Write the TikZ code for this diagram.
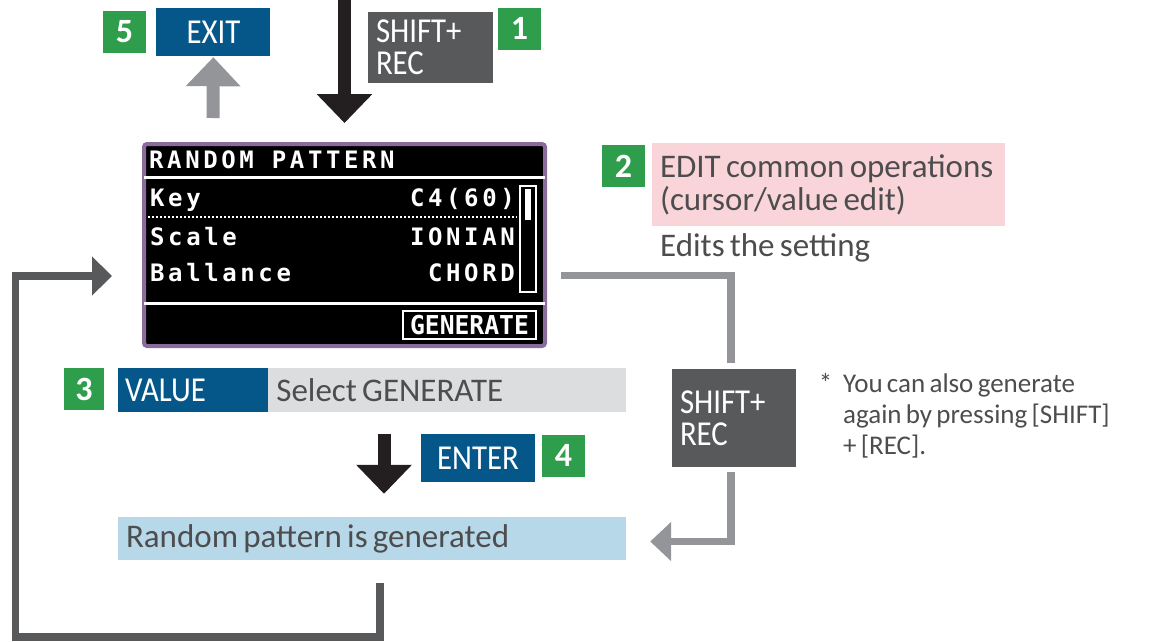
\documentclass[tikz,border=0pt]{standalone}
\usepackage{fontspec}
\setmainfont{Carlito}[WordSpace=0.7]
\newfontfamily\keyfont[FakeStretch=0.88]{Carlito}
\newfontfamily\lcdfont[LetterSpace=15]{DejaVu Sans Mono}
\newfontfamily\lcdtallfont[FakeStretch=0.95]{DejaVu Sans Mono}
\usetikzlibrary{positioning,arrows.meta}
\definecolor{StepGreen}{HTML}{2F9E4C}
\definecolor{KeyBlue}{HTML}{05578A}
\definecolor{KeyGrey}{HTML}{58595B}
\definecolor{SelectGrey}{HTML}{DCDDDE}
\definecolor{EditPink}{HTML}{F9D5D9}
\definecolor{GenBlue}{HTML}{B7D8E8}
\definecolor{ArrowGrey}{HTML}{939598}
\definecolor{ArrowBlack}{HTML}{231F20}
\definecolor{LcdPurple}{HTML}{8A6C9C}
\definecolor{TextGrey}{HTML}{4D4D4F}
\newcommand\barline[1]{\noindent\spaceskip=0pt\relax\xspaceskip=0pt\relax\mbox{#1}}

\tikzset{
  numbox/.style={rectangle, fill=StepGreen, text=white, inner sep=0pt,
    minimum width=43pt, minimum height=42pt, font=\fontsize{34}{34}\selectfont\bfseries},
  keybox/.style={rectangle, fill=KeyBlue, text=white, inner sep=0pt,
    font=\keyfont\fontsize{35}{35}\selectfont},
  shiftbox/.style={rectangle, fill=KeyGrey, text=white, inner xsep=8pt, inner ysep=0pt,
    align=left, font=\keyfont\fontsize{35}{32}\selectfont},
  textbar/.style={rectangle, text=TextGrey, inner xsep=8pt, inner ysep=0pt,
    font=\fontsize{33}{33}\selectfont},
  plaintext/.style={inner sep=0pt, text=TextGrey, font=\fontsize{33}{33}\selectfont},
  lcdtext/.style={inner sep=0pt, text=white, font=\lcdfont\bfseries\fontsize{24}{24}\selectfont},
  lcdline/.style={draw=white, line width=3pt},
  blackarrow/.style={draw=ArrowBlack, line width=13pt, -{Triangle[width=54pt,length=29pt]}},
  greyarrow/.style={draw=ArrowGrey, line width=13pt, -{Triangle[width=53pt,length=29pt]}},
  greyline/.style={draw=ArrowGrey, line width=7.5pt},
  loopline/.style={draw=KeyGrey, line width=7.5pt}
}

\begin{document}
\begin{tikzpicture}[x=1pt, y=-1pt]
\useasboundingbox (0,0) rectangle (1168,641);

% steps 5 and 1
\node [numbox] (num5) at (124.5,32) {5};
\node [keybox, minimum width=114pt, minimum height=48pt, right=10pt of num5] (exitkey) {EXIT};
\node [shiftbox, text width=109pt, minimum height=71pt] (shiftA) at (430.5,47.5) {SHIFT+\\REC};
\node [numbox] (num1) at (519.5,28.5) {1};

% the screen
\node [rectangle, draw=LcdPurple, fill=black, line width=4pt, rounded corners=3pt,
  minimum width=401pt, minimum height=202pt, inner sep=0pt] (lcd) at (344.5,245) {};
\node [lcdtext, anchor=base west] (title) at (149,168) {RANDOM PATTERN};
\draw [lcdline] (144,177) -- (545,177);
\node [lcdtext, anchor=base west] (keyname) at (150,206) {Key};
\node [lcdtext, anchor=base east] (keyval) at (515,206) {C4(60)};
\draw [draw=white, line width=2pt, dash pattern=on 2pt off 2pt] (148,217) -- (517,217);
\node [lcdtext, anchor=base west] (scalename) at (150,245) {Scale};
\node [lcdtext, anchor=base east] (scaleval) at (515,245) {IONIAN};
\node [lcdtext, anchor=base west] (balname) at (150,281) {Ballance};
\node [lcdtext, anchor=base east] (balval) at (515,281) {CHORD};
\draw [draw=white, line width=2.5pt] (520,186) rectangle (536,292);
\fill [white] (525,189) rectangle (531,220);
\draw [lcdline] (144,303) -- (545,303);
\node [rectangle, draw=white, line width=2.5pt, text=white, inner sep=0pt,
  minimum width=133pt, minimum height=28pt, font=\lcdtallfont\bfseries\fontsize{26}{26}\selectfont] (genbtn) at (469.5,325) {GENERATE};

% step 2
\node [numbox] (num2) at (623.5,166) {2};
\node [textbar, fill=EditPink, text width=337pt, minimum height=83pt] (edit) at (828.5,184.5)
  {\barline{EDIT common operations}\\\barline{(cursor/value edit)}};
\node [plaintext, anchor=base west] (editnote) at (660,256) {Edits the setting};

% steps 3 and 4
\node [numbox, minimum width=40pt] (num3) at (84,389) {3};
\node [keybox, minimum height=44pt, text width=136pt, inner xsep=7pt] (valuekey) at (193,390) {\barline{VALUE}};
\node [textbar, fill=SelectGrey, minimum height=44pt, text width=342pt, right=0pt of valuekey] (select)
  {\barline{Select GENERATE}};
\node [keybox, minimum width=114pt, minimum height=48pt] (enterkey) at (478,458) {ENTER};
\node [numbox] (num4) at (563.5,455.5) {4};
\node [textbar, fill=GenBlue, minimum height=43pt, text width=492pt] (gen) at (372,538.5)
  {\barline{Random pattern is generated}};

% shortcut
\node [shiftbox, text width=108pt, minimum height=98pt] (shiftB) at (734,418) {SHIFT+\\REC};
\node [plaintext, anchor=north west, align=left, font=\fontsize{27}{31}\selectfont] (note) at (843,373)
  {\llap{*\hspace{11pt}}You can also generate\\again by pressing [SHIFT]\\+ [REC].};

\coordinate (topin) at (344.5,0);
\coordinate (exitfrom) at (213,118);
\coordinate (enterfrom) at (384,434);
\coordinate (lcdout) at (561,275.5);
\coordinate (loopout) at (380,583);
\coordinate (loopin) at (112,276);

\draw [blackarrow, shorten >=19pt] (topin) -- (lcd.north);
\draw [greyarrow, shorten >=1pt] (exitfrom) -- (exitkey.south);
\draw [blackarrow, shorten >=23pt] (enterfrom) -- (enterfrom |- gen.north);
\draw [greyline] (lcdout) -| ([xshift=-3pt,yshift=6pt]shiftB.north);
\draw [greyline, -{Triangle[width=38pt,length=21pt]}, shorten >=24pt]
  ([xshift=-3pt,yshift=-5pt]shiftB.south) |- ([yshift=-3pt]gen.east);
\draw [loopline, -{Triangle[width=38pt,length=20pt]}]
  (loopout) -- ++(0,54) -| ([xshift=-96.5pt]loopin) -- (loopin);
\end{tikzpicture}
\end{document}
